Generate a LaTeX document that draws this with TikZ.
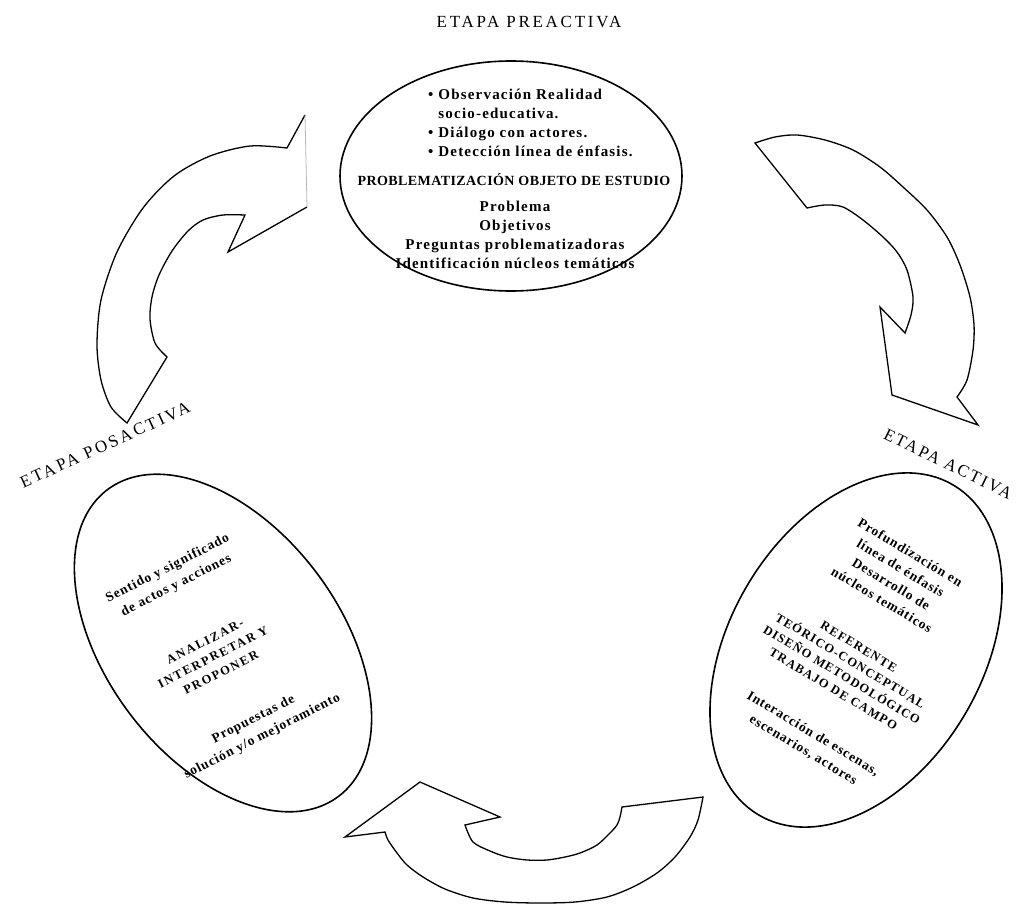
\documentclass[tikz,border=0pt]{standalone}
\usepackage{fontspec}
\setmainfont{Liberation Serif}
\usetikzlibrary{shapes.geometric}
\begin{document}
\begin{tikzpicture}[x=1pt,y=-1pt,
  ell/.style={draw=black, line width=1.6pt, ellipse, inner sep=0pt},
  arr/.style={draw=black, line width=1.3pt, line join=miter},
  lbl/.style={font=\fontsize{17}{19}\selectfont\addfontfeature{LetterSpace=16}, inner sep=0pt},
  txt/.style={font=\fontsize{15}{19}\selectfont\bfseries\addfontfeature{LetterSpace=8}, inner sep=0pt, align=center},
  stxt/.style={font=\fontsize{13.5}{19}\selectfont\bfseries\addfontfeature{LetterSpace=7}, inner sep=0pt, align=center},
  ctxt/.style={font=\fontsize{12.5}{17.5}\selectfont\bfseries\addfontfeature{LetterSpace=14}, inner sep=0pt, align=center}
]
\useasboundingbox (0,0) rectangle (1020,905);

% ellipses
\node[ell, minimum width=342pt, minimum height=230pt] (top) at (511,176) {};
\node[ell, minimum width=234pt, minimum height=384pt, rotate=37] (left) at (223,643) {};
\node[ell, minimum width=253pt, minimum height=383pt, rotate=-30.5] (right) at (856,650) {};

% stage labels
\node[lbl] (pre) at (529,22) {ETAPA PREACTIVA};
\node[lbl, rotate=24.5] (pos) at (105,445) {ETAPA POSACTIVA};
\node[lbl, font=\fontsize{17}{19}\selectfont\addfontfeature{LetterSpace=13}, rotate=-26] (act) at (948,464) {ETAPA ACTIVA};

% top ellipse text
\node[txt, align=left, anchor=west] (bul) at (428,123)
  {\textbullet\ Observación Realidad\\\phantom{\textbullet\ }socio-educativa.\\\textbullet\ Diálogo con actores.\\\textbullet\ Detección línea de énfasis.};
\node[font=\fontsize{14}{17}\selectfont\bfseries\addfontfeature{LetterSpace=3}, inner sep=0pt] (prob) at (514,180) {PROBLEMATIZACIÓN OBJETO DE ESTUDIO};
\node[txt] (obj) at (515,235) {Problema\\Objetivos\\Preguntas problematizadoras\\Identificación núcleos temáticos};

% left ellipse text
\node[stxt, rotate=27] (sen) at (172,577) {Sentido y significado\\de actos y acciones};
\node[ctxt, rotate=27] (ana) at (213,657) {ANALIZAR-\\INTERPRETAR Y\\PROPONER};
\node[stxt, rotate=27] (pro) at (258,728) {Propuestas de\\solución y/o mejoramiento};

% right ellipse text
\node[stxt, font=\fontsize{13.5}{18.5}\selectfont\bfseries\addfontfeature{LetterSpace=7}, rotate=-31] (prf) at (896,576) {Profundización en\\línea de énfasis\\Desarrollo de\\núcleos temáticos};
\node[ctxt, font=\fontsize{12.5}{16.5}\selectfont\bfseries\addfontfeature{LetterSpace=10}, rotate=-31] (ref) at (846,668) {REFERENTE\\TEÓRICO-CONCEPTUAL\\DISEÑO METODOLÓGICO\\TRABAJO DE CAMPO};
\node[stxt, rotate=-31] (int) at (808,742) {Interacción de escenas,\\escenarios, actores};

% arrow: posactiva -> preactiva
\draw[arr] (307,207) -- (228,252) -- (245,215)
  -- plot[smooth] coordinates {(245,215)(223,215)(203,220)(188,231)(172,251)(159,275)(152,297)(150,319)(155,343)(167,357)}
  -- (127,423)
  -- plot[smooth] coordinates {(127,423)(111,407)(101,380)(97,345)(101,300)(117,252)(143,208)(174,176)(210,156)(250,146)(287,148)}
  -- (305,115);
\draw[gray!55, line width=0.8pt] (305,115) -- (307,207);

% arrow: preactiva -> activa
\draw[arr] (755,143)
  -- plot[smooth] coordinates {(755,143)(775,137)(797,135)(825,140)(853,150)(880,167)(903,187)(927,210)(947,237)(960,265)(970,297)(974,325)(973,350)(967,380)(957,397)}
  -- (978,425) -- (892,395) -- (880,307) -- (905,333)
  -- plot[smooth] coordinates {(905,333)(911,315)(913,297)(907,270)(897,252)(883,237)(863,220)(843,207)(825,205)(807,208)}
  -- cycle;

% arrow: activa -> posactiva
\draw[arr] (703,797)
  -- plot[smooth] coordinates {(703,797)(698,820)(690,837)(675,857)(657,873)(633,887)(607,897)(575,902)(540,903)(505,902)(473,898)(445,889)(423,877)(407,865)(397,853)(388,840)(385,832)}
  -- (345,837) -- (420,782) -- (500,817) -- (465,825)
  -- plot[smooth] coordinates {(465,825)(473,842)(490,851)(507,857)(527,860)(547,860)(565,857)(580,853)(597,845)(610,833)(617,825)(620,817)(622,807)}
  -- cycle;
\end{tikzpicture}
\end{document}
